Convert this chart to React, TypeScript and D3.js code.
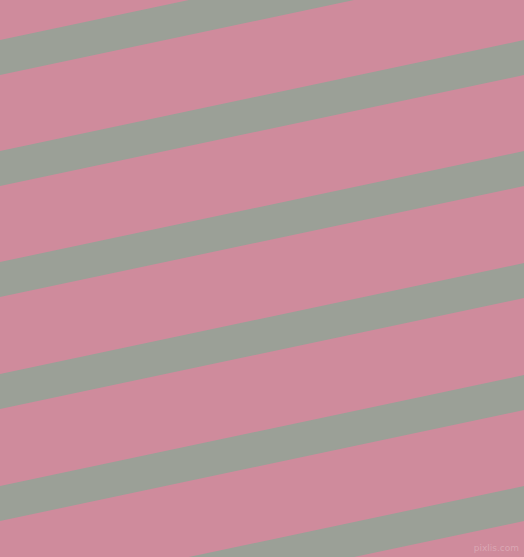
import React from "react";
import * as d3 from "d3";

const W = 524;
const H = 557;
// top-edge y of each stripe at the left border (x = 0)
const stripeTops = [40, 151, 262, 374, 486, 597];
const stripeThickness = [35, 35, 35, 35, 35, 35];
const rise = 111; // vertical rise across full width
const bgColor = "#cf8b9c";
const stripeColor = "#9ba097";

export default function App() {
  const x = d3.scaleLinear().domain([0, 1]).range([0, W]);
  const y = d3.scaleLinear().domain([0, H]).range([0, H]);
  const line = d3.line<[number, number]>().x((d) => x(d[0])).y((d) => y(d[1]));
  return (
    <svg width={W} height={H} style={{ position: "absolute", left: 0, top: 0 }}>
      <rect width={W} height={H} fill={bgColor} />
      {stripeTops.map((t, i) => {
        const th = stripeThickness[i];
        const pts: [number, number][] = [
          [0, t],
          [1, t - rise],
          [1, t - rise + th],
          [0, t + th],
        ];
        return <path key={i} d={line(pts) + "Z"} fill={stripeColor} />;
      })}
      <text
        x={519}
        y={551}
        textAnchor="end"
        fontFamily="DejaVu Sans, sans-serif"
        fontSize={9}
        fill="#ffffff"
        fillOpacity={0.25}
      >
        pixlis.com
      </text>
    </svg>
  );
}
